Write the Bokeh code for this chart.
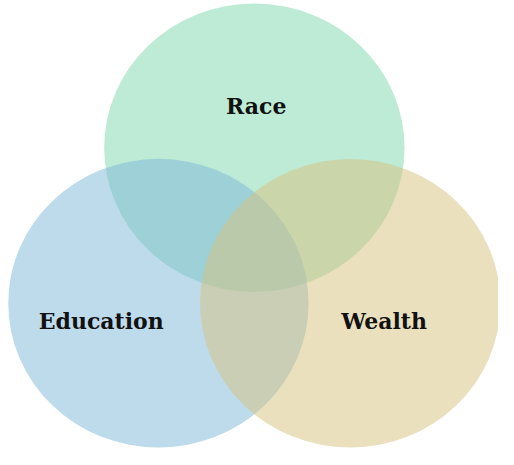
from bokeh.plotting import figure
from bokeh.models import Range1d, ColumnDataSource
from bokeh.core.properties import value
from bokeh.embed import file_html
from bokeh.resources import INLINE

# Venn diagram data
sets = ["Race", "Education", "Wealth"]
colors = ["#7dd8ae", "#7bb8d8", "#d6c27e"]

# layout (reference-image coordinates, y grows downward)
cx = [262, 163, 361]
cy = [152.5, 313.5, 313.5]
label_x = [264, 104, 396]
label_y = [109, 332, 332]

W, H = 498, 449
p = figure(width=W, height=H, output_backend="svg", toolbar_location=None,
           x_range=Range1d(0, 514), y_range=Range1d(465, 0),
           min_border=0, background_fill_color="white")
p.axis.visible = False
p.grid.visible = False
p.outline_line_color = None

src = ColumnDataSource(dict(x=cx, y=cy, c=colors, name=sets, lx=label_x, ly=label_y))
p.ellipse(x="x", y="y", width=310, height=299, fill_color="c", fill_alpha=0.5,
          line_color=None, source=src)
p.text(x="lx", y="ly", text="name", source=src, text_align="center",
       text_baseline="middle", text_font=value("DejaVu Serif"),
       text_font_style="bold", text_font_size="22px", text_color="#111111")

open("out.html", "w").write(file_html(p, INLINE))
